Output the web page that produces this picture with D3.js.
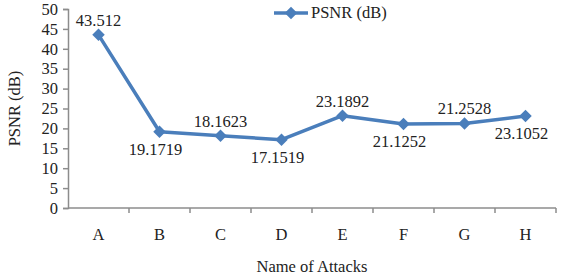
<!DOCTYPE html>
<html>
<head>
<meta charset="utf-8">
<script src="https://cdn.jsdelivr.net/npm/d3@7"></script>
<style>
  body { margin: 0; background: #fff; }
  text { font-family: "Liberation Serif", "Times New Roman", serif; fill: #222; }
</style>
</head>
<body>
<svg id="chart"></svg>
<script>
const attacks = ["A", "B", "C", "D", "E", "F", "G", "H"];
const psnr = [43.512, 19.1719, 18.1623, 17.1519, 23.1892, 21.1252, 21.2528, 23.1052];
const labels = ["43.512", "19.1719", "18.1623", "17.1519", "23.1892", "21.1252", "21.2528", "23.1052"];
const labelAbove = [true, false, true, false, true, false, true, false];
const yTicks = [0, 5, 10, 15, 20, 25, 30, 35, 40, 45, 50];

const width = 567, height = 279;
const margin = {top: 9, right: 11, bottom: 71, left: 68};
const blue = "#4a7ebb";
const fs = "16.5px";

const svg = d3.select("#chart").attr("width", width).attr("height", height);

const x = d3.scaleBand().domain(attacks)
    .range([margin.left, width - margin.right]);
const y = d3.scaleLinear().domain([0, 50])
    .range([height - margin.bottom, margin.top]);

// y axis
const yAxis = svg.append("g")
    .attr("transform", `translate(${margin.left},0)`)
    .call(d3.axisLeft(y).tickValues(yTicks).tickSize(5).tickPadding(5));
yAxis.selectAll("text").style("font-size", fs).style("font-family", "Liberation Serif");

// x axis with ticks at band boundaries
const xg = svg.append("g").attr("transform", `translate(0,${y(0)})`);
xg.append("line")
    .attr("x1", margin.left).attr("x2", width - margin.right)
    .attr("y1", 0).attr("y2", 0);
xg.selectAll(".tk").data(attacks).enter().append("line")
    .attr("x1", d => x(d) + x.bandwidth()).attr("x2", d => x(d) + x.bandwidth())
    .attr("y1", 0).attr("y2", 5);
xg.selectAll(".lb").data(attacks).enter().append("text")
    .attr("x", d => x(d) + x.bandwidth() / 2)
    .attr("y", 32)
    .attr("text-anchor", "middle")
    .style("font-size", fs)
    .text(d => d);
xg.selectAll("line").attr("stroke", "#8c8c8c").attr("stroke-width", 1.5);

yAxis.select(".domain").attr("stroke", "#8c8c8c").attr("stroke-width", 1.5);
yAxis.selectAll(".tick line").attr("stroke", "#8c8c8c").attr("stroke-width", 1.5);

const cx = d => x(d) + x.bandwidth() / 2;

// line
const line = d3.line().x((d, i) => cx(attacks[i])).y(d => y(d));
svg.append("path").datum(psnr)
    .attr("d", line)
    .attr("fill", "none")
    .attr("stroke", blue)
    .attr("stroke-width", 3.5)
    .attr("stroke-linejoin", "round");

const diamond = d3.symbol().type(d3.symbolDiamond2).size(100);
svg.selectAll(".pt").data(psnr).enter().append("path")
    .attr("d", diamond)
    .attr("transform", (d, i) => `translate(${cx(attacks[i])},${y(d)})`)
    .attr("fill", blue);

// data labels
svg.selectAll(".dl").data(psnr).enter().append("text")
    .attr("x", (d, i) => cx(attacks[i]) - (labelAbove[i] ? 0 : 4))
    .attr("y", (d, i) => labelAbove[i] ? y(d) - 9 : y(d) + 23)
    .attr("text-anchor", "middle")
    .style("font-size", fs)
    .text((d, i) => labels[i]);

// legend
const lg = svg.append("g").attr("transform", "translate(274,13)");
lg.append("line").attr("x1", 0).attr("x2", 34).attr("y1", 0).attr("y2", 0)
    .attr("stroke", blue).attr("stroke-width", 3.5);
lg.append("path").attr("d", diamond).attr("transform", "translate(17,0)").attr("fill", blue);
lg.append("text").attr("x", 37).attr("y", 5).style("font-size", fs).text("PSNR (dB)");

// axis titles
svg.append("text")
    .attr("transform", `translate(20,${(y(0) + y(50)) / 2}) rotate(-90)`)
    .attr("text-anchor", "middle")
    .style("font-size", fs)
    .text("PSNR (dB)");
svg.append("text")
    .attr("x", (margin.left + width - margin.right) / 2)
    .attr("y", 272)
    .attr("text-anchor", "middle")
    .style("font-size", fs)
    .text("Name of Attacks");
</script>
</body>
</html>
